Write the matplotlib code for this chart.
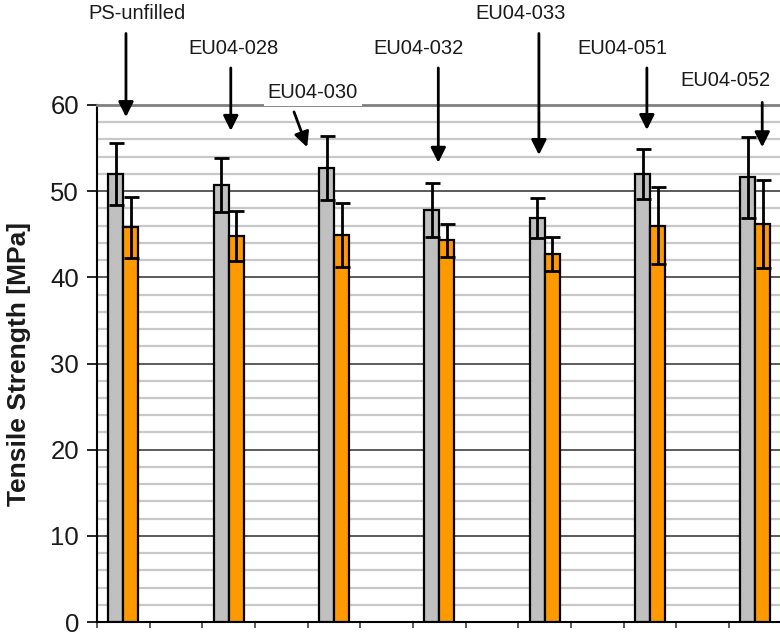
import matplotlib
matplotlib.use("Agg")
import matplotlib.pyplot as plt
import numpy as np

plt.rcParams['font.family'] = ['Liberation Sans', 'DejaVu Sans']

# ---- data ----
groups = ["PS-unfilled", "EU04-028", "EU04-030", "EU04-032", "EU04-033", "EU04-051", "EU04-052"]
gray_vals = [52.0, 50.7, 52.7, 47.8, 46.9, 52.0, 51.6]
gray_err = [3.6, 3.1, 3.7, 3.1, 2.35, 2.9, 4.7]
orange_vals = [45.8, 44.8, 44.9, 44.3, 42.7, 46.0, 46.2]
orange_err = [3.5, 2.9, 3.7, 1.9, 1.95, 4.5, 5.1]
y_ticks = [0, 10, 20, 30, 40, 50, 60]

# label text position (x in categories, y in MPa), arrow tail and tip
label_pos = [(0.76, 70.6), (2.6, 66.6), (4.1, 61.5), (6.1, 66.6), (8.05, 70.6), (9.98, 66.6), (11.94, 62.8)]
arrow_tail = [(0.55, 68.3), (2.54, 64.3), (3.74, 59.2), (6.48, 64.3), (8.39, 68.3), (10.44, 64.3), (12.63, 60.3)]
arrow_tip = [(0.55, 58.6), (2.54, 57.0), (3.99, 55.1), (6.48, 53.3), (8.39, 54.2), (10.44, 57.1), (12.63, 55.1)]

W, H = 780, 632
fig = plt.figure(figsize=(W / 100, H / 100), dpi=100)
left_px, right_px, top_px, bot_px = 97, 780, 105, 622
ax = fig.add_axes([left_px / W, (H - bot_px) / H, (right_px - left_px) / W, (bot_px - top_px) / H])

cat_w = 52.67
ax.set_xlim(0, (right_px - left_px) / cat_w)
ax.set_ylim(0, 60)

bw = 0.285
centers = np.arange(len(groups)) * 2 + 0.5
ekw = dict(ecolor='black', elinewidth=2, capsize=5.4, capthick=2)
ax.bar(centers - bw / 2, gray_vals, width=bw, color='#c0c0c0', edgecolor='black',
       linewidth=1.6, yerr=gray_err, error_kw=ekw, zorder=3)
ax.bar(centers + bw / 2, orange_vals, width=bw, color='#ff9900', edgecolor='black',
       linewidth=1.6, yerr=orange_err, error_kw=ekw, zorder=3)

# grid
for v in np.arange(2, 60, 2):
    if v % 10 == 0:
        ax.axhline(v, color='#404040', lw=1.2, zorder=1)
    else:
        ax.axhline(v, color='#c8c8c8', lw=1.6, zorder=1)

# spines
ax.spines['right'].set_visible(False)
ax.spines['top'].set_color('#808080')
ax.spines['top'].set_linewidth(2)
ax.spines['left'].set_linewidth(1.5)
ax.spines['bottom'].set_linewidth(1.5)

ax.set_xticks(np.arange(0, 13))
ax.set_xticklabels([])
ax.tick_params(axis='x', direction='out', length=4, width=1.2, color='#404040')
ax.set_yticks(y_ticks)
ax.set_yticklabels([str(t) for t in y_ticks], fontsize=18.5, color='#1a1a1a')
ax.tick_params(axis='y', direction='out', length=7, width=1.2, pad=6)

fig.text(0.025, (H - 364) / H, "Tensile Strength [MPa]", rotation=90, fontsize=19,
         fontweight='bold', color='#1a1a1a', ha='center', va='center')

for name, lp, tail, tip in zip(groups, label_pos, arrow_tail, arrow_tip):
    ax.text(lp[0], lp[1], name, fontsize=14.5, color='#1a1a1a', ha='center', va='center',
            bbox=dict(facecolor='white', edgecolor='none', pad=3), clip_on=False, zorder=6)
    ax.annotate('', xy=tip, xytext=tail, annotation_clip=False, zorder=7,
                arrowprops=dict(arrowstyle='-|>,head_length=0.9,head_width=0.45', color='black',
                                lw=2, shrinkA=0, shrinkB=0))

fig.savefig("out.png", dpi=100)
